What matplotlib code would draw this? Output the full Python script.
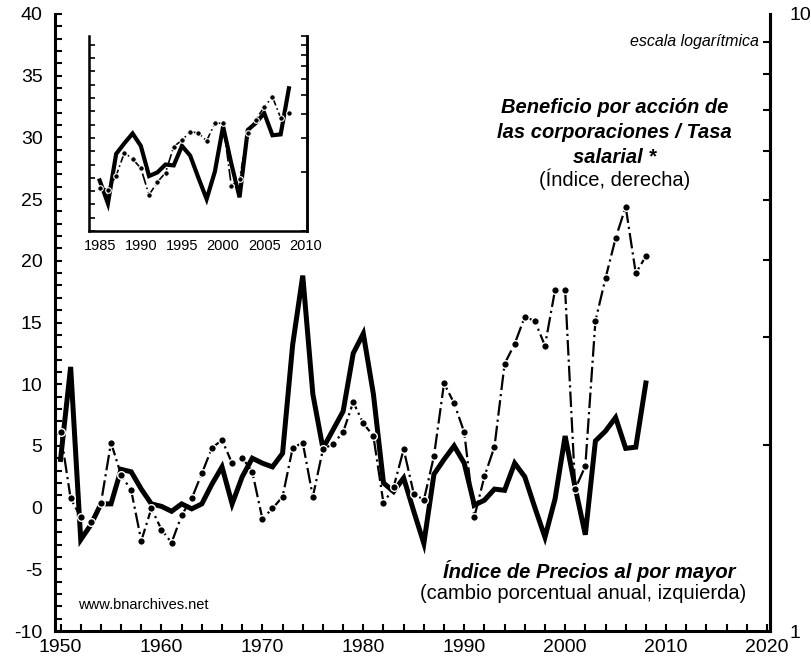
import numpy as np
import matplotlib
matplotlib.use('Agg')
import matplotlib.pyplot as plt
from matplotlib.ticker import MultipleLocator, FixedLocator, NullFormatter

plt.rcParams['font.family'] = ['Liberation Sans', 'DejaVu Sans']
plt.rcParams['axes.unicode_minus'] = False

years = list(range(1950, 2009))

# Wholesale price index, annual % change (left axis)
wpi = [3.9, 11.4, -2.6, -1.4, 0.3, 0.3, 3.1, 2.9, 1.5, 0.3,
       0.1, -0.3, 0.3, -0.1, 0.3, 1.9, 3.3, 0.3, 2.5, 4.0,
       3.6, 3.3, 4.4, 13.2, 18.8, 9.2, 4.8, 6.3, 7.8, 12.5,
       14.1, 9.2, 2.0, 1.3, 2.4, -0.3, -2.9, 2.7, 3.9, 5.0,
       3.6, 0.2, 0.6, 1.5, 1.4, 3.6, 2.5, 0.0, -2.4, 0.7,
       5.8, 1.6, -2.2, 5.4, 6.2, 7.3, 4.8, 4.9, 10.1]

# Corporate EPS / wage rate index (right axis, log)
ratio = [2.10, 1.64, 1.53, 1.50, 1.61, 2.02, 1.79, 1.69, 1.40, 1.58,
         1.46, 1.39, 1.54, 1.64, 1.80, 1.98, 2.04, 1.87, 1.91, 1.81,
         1.52, 1.58, 1.65, 1.98, 2.02, 1.65, 1.97, 2.01, 2.10, 2.35,
         2.17, 2.07, 1.61, 1.71, 1.97, 1.67, 1.63, 1.92, 2.52, 2.34,
         2.10, 1.53, 1.78, 1.99, 2.71, 2.92, 3.23, 3.18, 2.90, 3.57,
         3.57, 1.70, 1.85, 3.18, 3.73, 4.33, 4.87, 3.80, 4.05]

inset_start = 1985

W, H = 812, 665
fig = plt.figure(figsize=(W / 100, H / 100), dpi=100)


def frac(x0, y0, x1, y1):
    return [x0 / W, 1 - y1 / H, (x1 - x0) / W, (y1 - y0) / H]


dash = (0, (7, 1.8, 1, 1.8))

# main chart
ax = fig.add_axes(frac(55, 14, 770, 631))
ax.plot(years, wpi, color='black', lw=3.6, solid_joinstyle='miter', zorder=2)
ax.set_xlim(1949.45, 2020.3)
ax.set_ylim(-10, 40)
ax.xaxis.set_major_locator(MultipleLocator(10))
ax.xaxis.set_minor_locator(MultipleLocator(2))
ax.yaxis.set_major_locator(MultipleLocator(5))
ax.yaxis.set_minor_locator(MultipleLocator(1))
ax.tick_params(which='both', direction='in', width=1.5, length=5, labelsize=14, colors='black')
ax.tick_params(axis='y', which='both', pad=9)
ax.tick_params(axis='x', which='both', pad=6)
ax.spines['top'].set_visible(False)
for s in ('left', 'bottom', 'right'):
    ax.spines[s].set_linewidth(2.2)

ax2 = ax.twinx()
ax2.set_yscale('log')
ax2.set_ylim(1, 10)
ax2.plot(years, ratio, color='black', lw=1.6, linestyle=dash,
         marker='o', ms=5.5, mfc='black', mec='white', mew=1.0, zorder=3)
ax2.yaxis.set_major_locator(FixedLocator([1, 10]))
ax2.yaxis.set_major_formatter(plt.FuncFormatter(lambda v, p: f'{v:g}'))
ax2.yaxis.set_minor_locator(FixedLocator([2, 3, 4, 5, 6, 7, 8, 9]))
ax2.yaxis.set_minor_formatter(NullFormatter())
ax2.tick_params(which='major', length=0, pad=14, labelsize=14)
ax2.tick_params(which='minor', direction='in', width=1.5, length=5)
ax2.spines['top'].set_visible(False)
ax2.spines['right'].set_linewidth(2.2)

ax.text(2019.2, 37.75, 'escala logarítmica', ha='right', va='center',
        fontsize=11.5, style='italic')
title_lines = ['Beneficio por acción de', 'las corporaciones / Tasa', 'salarial *']
for line, yv in zip(title_lines, [32.4, 30.37, 28.4]):
    ax.text(2004.9, yv, line, ha='center', va='center', fontsize=14.5,
            style='italic', weight='bold')
ax.text(2004.9, 26.6, '(Índice, derecha)', ha='center', va='center', fontsize=14.5)
ax.text(2016.9, -5.1, 'Índice de Precios al por mayor', ha='right', va='center',
        fontsize=14.5, style='italic', weight='bold')
ax.text(2017.9, -7.0, '(cambio porcentual anual, izquierda)', ha='right', va='center',
        fontsize=14.5)
ax.text(1951.7, -7.9, 'www.bnarchives.net', ha='left', va='center', fontsize=10.5)

# inset 1985-2008
i0 = years.index(inset_start)
axi = fig.add_axes(frac(89, 36, 307, 231))
axi.plot(years[i0:], wpi[i0:], color='black', lw=3.0, solid_joinstyle='miter', zorder=2)
axi.set_xlim(1983.7, 2010.2)
axi.set_ylim(-6, 16)
axi.xaxis.set_major_locator(MultipleLocator(5))
axi.yaxis.set_major_locator(MultipleLocator(1.5))
axi.tick_params(axis='x', length=0, labelsize=10.5, pad=6)
axi.tick_params(axis='y', direction='in', width=1.2, length=4, labelleft=False)
axi.spines['top'].set_visible(False)
for s in ('left', 'bottom', 'right'):
    axi.spines[s].set_linewidth(1.8)

axi2 = axi.twinx()
axi2.set_yscale('log')
axi2.set_ylim(1, 10)
axi2.plot(years[i0:], ratio[i0:], color='black', lw=1.2, linestyle=dash,
          marker='o', ms=4, mfc='black', mec='white', mew=0.8, zorder=3)
axi2.yaxis.set_major_locator(FixedLocator([1, 10]))
axi2.yaxis.set_minor_locator(FixedLocator([2, 3, 4, 5, 6, 7, 8, 9]))
axi2.yaxis.set_major_formatter(NullFormatter())
axi2.yaxis.set_minor_formatter(NullFormatter())
axi2.tick_params(which='both', direction='in', width=1.2, length=4)
axi2.spines['top'].set_visible(False)
axi2.spines['right'].set_linewidth(1.8)

fig.savefig('out.png', dpi=100)
